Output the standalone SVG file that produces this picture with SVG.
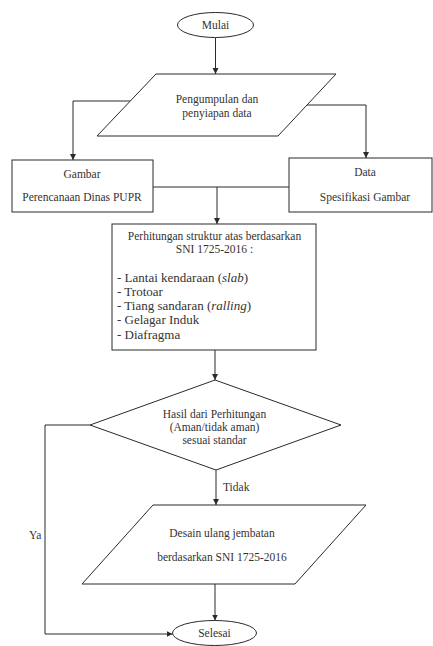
<svg xmlns="http://www.w3.org/2000/svg" width="433" height="646" viewBox="0 0 433 646">
<style>
.s{fill:#fff;stroke:#2a2a2a;stroke-width:1}
.c{fill:none;stroke:#2a2a2a;stroke-width:1}
.t{font-family:"Liberation Serif","Times New Roman",serif;font-size:11.5px;fill:#333;text-anchor:middle}
.l{font-family:"Liberation Serif","Times New Roman",serif;font-size:13px;fill:#333}
</style>
<defs>
<marker id="ah" markerUnits="userSpaceOnUse" markerWidth="8" markerHeight="8" refX="6" refY="3" orient="auto">
<path d="M0,0 L6,3 L0,6 Z" fill="#2a2a2a"/>
</marker>
</defs>
<rect width="433" height="646" fill="#fff"/>
<g id="connectors">
<line class="c" x1="215.5" y1="37.5" x2="215.5" y2="74" marker-end="url(#ah)"/>
<polyline class="c" points="130,101 73,101 73,160" marker-end="url(#ah)"/>
<polyline class="c" points="307,105 366,105 366,158" marker-end="url(#ah)"/>
<line class="c" x1="153" y1="187" x2="289" y2="187"/>
<line class="c" x1="217" y1="187" x2="217" y2="224" marker-end="url(#ah)"/>
<line class="c" x1="215" y1="350" x2="215" y2="380" marker-end="url(#ah)"/>
<polyline class="c" points="90,425 45,425 45,634 172.5,634" marker-end="url(#ah)"/>
<line class="c" x1="216" y1="470" x2="216" y2="505" marker-end="url(#ah)"/>
<line class="c" x1="215" y1="584" x2="215" y2="620.5" marker-end="url(#ah)"/>
<text class="t" x="29" y="539" style="text-anchor:start">Ya</text>
<text class="t" x="223" y="491" style="text-anchor:start">Tidak</text>
</g>
<g id="mulai">
<ellipse class="s" cx="215.5" cy="25" rx="38" ry="12.5"/>
<text class="t" x="215.5" y="29">Mulai</text>
</g>
<g id="pengumpulan">
<polygon class="s" points="156,74 336,74 278,136 97,136"/>
<text class="t" x="217" y="103">Pengumpulan dan</text>
<text class="t" x="217" y="117">penyiapan data</text>
</g>
<g id="gambar">
<rect class="s" x="12" y="160" width="141" height="52"/>
<text class="t" x="82" y="178">Gambar</text>
<text class="t" x="82" y="201">Perencanaan Dinas PUPR</text>
</g>
<g id="data">
<rect class="s" x="289" y="158" width="143" height="54"/>
<text class="t" x="365" y="176">Data</text>
<text class="t" x="365" y="201">Spesifikasi Gambar</text>
</g>
<g id="perhitungan">
<rect class="s" x="112" y="224" width="204" height="126"/>
<text class="t" x="214.5" y="240">Perhitungan struktur atas berdasarkan</text>
<text class="t" x="214.5" y="253">SNI 1725-2016 :</text>
<text class="l" x="117" y="282">- Lantai kendaraan (<tspan font-style="italic">slab</tspan>)</text>
<text class="l" x="117" y="296">- Trotoar</text>
<text class="l" x="117" y="310">- Tiang sandaran (<tspan font-style="italic">ralling</tspan>)</text>
<text class="l" x="117" y="324">- Gelagar Induk</text>
<text class="l" x="117" y="339">- Diafragma</text>
</g>
<g id="hasil">
<polygon class="s" points="215,380 341,425 216,470 90,425"/>
<text class="t" x="214.5" y="418">Hasil dari Perhitungan</text>
<text class="t" x="214.5" y="431">(Aman/tidak aman)</text>
<text class="t" x="214.5" y="444">sesuai standar</text>
</g>
<g id="desain">
<polygon class="s" points="153,505 366,505 295,584 82,584"/>
<text class="t" x="222" y="537">Desain ulang jembatan</text>
<text class="t" x="222" y="561">berdasarkan SNI 1725-2016</text>
</g>
<g id="selesai">
<ellipse class="s" cx="214.5" cy="633" rx="42" ry="12.5"/>
<text class="t" x="214.5" y="637">Selesai</text>
</g>
</svg>
